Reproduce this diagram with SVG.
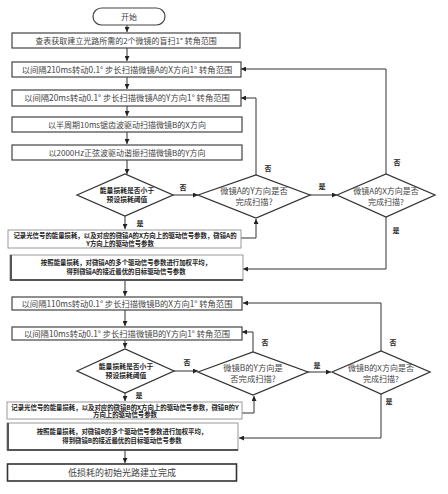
<svg xmlns="http://www.w3.org/2000/svg" width="448" height="494" viewBox="0 0 448 494">
<defs>
<marker id="ah" viewBox="0 0 10 10" refX="10" refY="5" markerWidth="5" markerHeight="5" orient="auto" markerUnits="userSpaceOnUse"><path d="M0,0 L10,5 L0,10 z" fill="#222"/></marker>
<style>
.b{fill:#fff;stroke:#444;stroke-width:1.2}
.lb{fill:#fff;stroke:#999;stroke-width:1}
.d{fill:#fff;stroke:#333;stroke-width:1.3}
.t{font-family:"Noto Sans CJK SC","Liberation Sans",sans-serif;fill:#444;text-anchor:middle}
.s{font-family:"Noto Sans CJK SC","Liberation Serif",serif;fill:#222;text-anchor:middle;font-weight:bold}
.c{fill:none;stroke:#333;stroke-width:1}
.l{font-family:"Noto Sans CJK SC","Liberation Serif",serif;fill:#222;font-size:7px;font-weight:bold;text-anchor:middle}
</style>
</defs>
<rect width="448" height="494" fill="#fff"/>
<g id="connectors">
<path class="c" d="M127,25 V32" marker-end="url(#ah)"/>
<path class="c" d="M127,48 V61" marker-end="url(#ah)"/>
<path class="c" d="M127,77 V89" marker-end="url(#ah)"/>
<path class="c" d="M127,106 V116" marker-end="url(#ah)"/>
<path class="c" d="M127,132 V144" marker-end="url(#ah)"/>
<path class="c" d="M127,160 V174" marker-end="url(#ah)"/>
<path class="c" d="M173,195 H198" marker-end="url(#ah)"/>
<path class="c" d="M310,195 H337" marker-end="url(#ah)"/>
<path class="c" d="M256,175 V98 H241" marker-end="url(#ah)"/>
<path class="c" d="M386,174 V69 H241" marker-end="url(#ah)"/>
<path class="c" d="M386,217 V269 H243" marker-end="url(#ah)"/>
<path class="c" d="M125,216 V229" marker-end="url(#ah)"/>
<path class="c" d="M241,238 H256 V219" marker-end="url(#ah)"/>
<path class="c" d="M125,281 V296" marker-end="url(#ah)"/>
<path class="c" d="M125,310 V326" marker-end="url(#ah)"/>
<path class="c" d="M125,340 V348" marker-end="url(#ah)"/>
<path class="c" d="M174,371 H198" marker-end="url(#ah)"/>
<path class="c" d="M308,372 H331" marker-end="url(#ah)"/>
<path class="c" d="M253,352 V332 H242" marker-end="url(#ah)"/>
<path class="c" d="M381,351 V303 H243" marker-end="url(#ah)"/>
<path class="c" d="M381,394 V438 H239" marker-end="url(#ah)"/>
<path class="c" d="M125,393 V401" marker-end="url(#ah)"/>
<path class="c" d="M242,413 H254 V396" marker-end="url(#ah)"/>
<path class="c" d="M125,451 V463" marker-end="url(#ah)"/>
<text class="l" x="183" y="190">否</text>
<text class="l" x="322" y="189">是</text>
<text class="l" x="268" y="171">否</text>
<text class="l" x="397" y="165">否</text>
<text class="l" x="396" y="233">是</text>
<text class="l" x="140" y="226">是</text>
<text class="l" x="187" y="365">否</text>
<text class="l" x="265" y="345">否</text>
<text class="l" x="317" y="368">是</text>
<text class="l" x="393" y="345">否</text>
<text class="l" x="389" y="404">是</text>
<text class="l" x="139" y="398">是</text>
</g>
<g id="start">
<rect x="93" y="8" width="72" height="17" rx="8.5" class="b"/>
<text class="t" x="129" y="19.5" font-size="8">开始</text>
</g>
<g id="box1">
<rect x="12" y="33" width="228" height="15" class="b"/>
<text class="t" x="126" y="43.5" font-size="8">查表获取建立光路所需的2个微镜的盲扫1° 转角范围</text>
</g>
<g id="box2">
<rect x="12" y="62" width="229" height="15" class="b"/>
<text class="t" x="127" y="72.5" font-size="8.3">以间隔210ms转动0.1° 步长扫描微镜A的X方向1° 转角范围</text>
</g>
<g id="box3">
<rect x="12" y="90" width="229" height="16" class="b"/>
<text class="t" x="127" y="101" font-size="8.3">以间隔20ms转动0.1° 步长扫描微镜A的Y方向1° 转角范围</text>
</g>
<g id="box4">
<rect x="12" y="117" width="230" height="15" class="b"/>
<text class="t" x="127" y="127.5" font-size="8">以半周期10ms锯齿波驱动扫描微镜B的X方向</text>
</g>
<g id="box5">
<rect x="12" y="145" width="230" height="15" class="b"/>
<text class="t" x="127" y="155.5" font-size="8">以2000Hz正弦波驱动谐振扫描微镜B的Y方向</text>
</g>
<g id="dec1">
<polygon points="77,195 125,174 173,195 125,216" class="d"/>
<text class="s" x="127" y="193" font-size="6.8">能量损耗是否小于</text>
<text class="s" x="127" y="202" font-size="6.8">预设损耗阈值</text>
</g>
<g id="dec2">
<polygon points="198,195 256,175 310,195 256,218" class="d"/>
<text class="t" x="254" y="194" font-size="8.3">微镜A的Y方向是否</text>
<text class="t" x="254" y="205" font-size="8.3">完成扫描?</text>
</g>
<g id="dec3">
<polygon points="337,195 386,174 435,195 386,217" class="d"/>
<text class="t" x="386" y="194" font-size="8">微镜A的X方向是否</text>
<text class="t" x="386" y="205" font-size="8">完成扫描?</text>
</g>
<g id="box6">
<rect x="8" y="230" width="233" height="18" class="lb"/>
<text class="s" x="125" y="238" font-size="6.4">记录光信号的能量损耗，以及对应的微镜A的X方向上的驱动信号参数，微镜A的</text>
<text class="s" x="120" y="246" font-size="6.4">Y方向上的驱动信号参数</text>
</g>
<g id="box7">
<rect x="10" y="255" width="233" height="25" fill="#fff" stroke="#999" stroke-width="1"/>
<path d="M11,255 V280 H243" fill="none" stroke="#555" stroke-width="2"/>
<text class="s" x="126" y="265" font-size="6.4">按照能量损耗，对微镜A的多个驱动信号参数进行加权平均，</text>
<text class="s" x="126" y="274" font-size="6.4">得到微镜A的接近最优的目标驱动信号参数</text>
</g>
<g id="box8">
<rect x="12" y="297" width="230" height="13" class="b"/>
<text class="t" x="127" y="306.5" font-size="8.3">以间隔110ms转动0.1° 步长扫描微镜B的X方向1° 转角范围</text>
</g>
<g id="box9">
<rect x="12" y="327" width="230" height="13" class="b"/>
<text class="t" x="127" y="336.5" font-size="8.3">以间隔10ms转动0.1° 步长扫描微镜B的Y方向1° 转角范围</text>
</g>
<g id="dec4">
<polygon points="77,371 125,349 174,371 125,393" class="d"/>
<text class="s" x="126" y="369" font-size="6.8">能量损耗是否小于</text>
<text class="s" x="126" y="378" font-size="6.8">预设损耗阈值</text>
</g>
<g id="dec5">
<polygon points="198,372 253,352 308,372 253,395" class="d"/>
<text class="t" x="253" y="371" font-size="8.3">微镜B的Y方向是</text>
<text class="t" x="253" y="382" font-size="8.3">否完成扫描?</text>
</g>
<g id="dec6">
<polygon points="332,372 381,351 430,372 381,394" class="d"/>
<text class="t" x="381" y="371" font-size="8">微镜B的X方向是否</text>
<text class="t" x="381" y="382" font-size="8">完成扫描?</text>
</g>
<g id="box10">
<rect x="7" y="402" width="235" height="17" class="lb"/>
<text class="s" x="125" y="409.5" font-size="6.4">记录光信号的能量损耗，以及对应的微镜B的X方向上的驱动信号参数，微镜B的Y</text>
<text class="s" x="125" y="417" font-size="6.4">方向上的驱动信号参数</text>
</g>
<g id="box11">
<rect x="7" y="423" width="231" height="27" fill="#fff" stroke="#999" stroke-width="1"/>
<path d="M8,423 V450 H238" fill="none" stroke="#555" stroke-width="2"/>
<text class="s" x="122" y="434" font-size="6.4">按照能量损耗，对微镜B的多个驱动信号参数进行加权平均，</text>
<text class="s" x="122" y="443" font-size="6.4">得到微镜B的接近最优的目标驱动信号参数</text>
</g>
<g id="box12">
<rect x="7.5" y="464" width="229" height="17" fill="#fff" stroke="#333" stroke-width="1.6"/>
<text class="t" x="122" y="475.5" font-size="9" fill="#555">低损耗的初始光路建立完成</text>
</g>
</svg>
